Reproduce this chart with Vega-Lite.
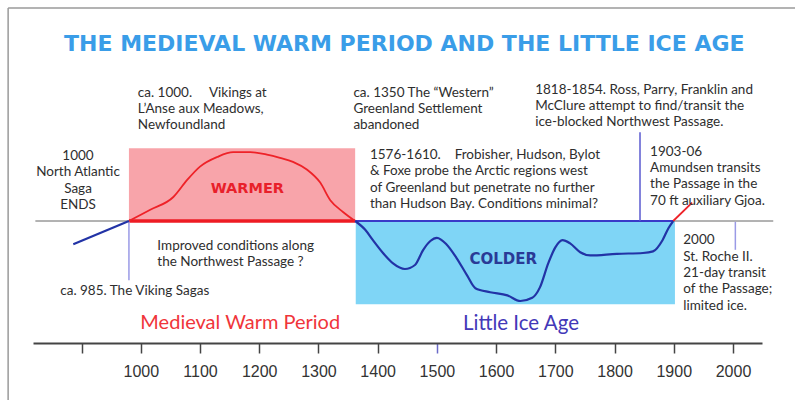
{
  "$schema": "https://vega.github.io/schema/vega-lite/v6.json",
  "width": 729,
  "height": 322,
  "autosize": {"type": "none"},
  "padding": {"left": 33, "top": 21, "right": 33, "bottom": 57},
  "background": "#ffffff",
  "config": {"view": {"stroke": null}},
  "datasets": {
    "warm_box": [{"year": 980, "year2": 1362, "v": 0, "v2": 0.91}],
    "cold_box": [{"year": 1363, "year2": 1902, "v": 0, "v2": -1.04}],
    "baseline_gray": [{"year": 822, "year2": 2068, "v": 0}],
    "baseline_red": [{"year": 980, "year2": 1362, "v": 0}],
    "baseline_blue": [{"year": 1362, "year2": 1899, "v": 0}],
    "frame_v": [{"year": 776, "v": 2.6625, "v2": -2.6}],
    "frame_h": [{"year": 776, "year2": 2140, "v": 2.6625}],
    "markers_light": [
      {"year": 980, "v": 0, "v2": -0.74},
      {"year": 2004, "v": -0.01, "v2": -0.36}
    ],
    "marker_dark": [{"year": 1843, "v": 0, "v2": 1.11}],
    "curve_warm": [
      {"seg": "mwp", "year": 980, "v": 0},
      {"seg": "mwp", "year": 1016, "v": 0.14},
      {"seg": "mwp", "year": 1055, "v": 0.3},
      {"seg": "mwp", "year": 1078, "v": 0.51},
      {"seg": "mwp", "year": 1100, "v": 0.68},
      {"seg": "mwp", "year": 1129, "v": 0.8},
      {"seg": "mwp", "year": 1156, "v": 0.86},
      {"seg": "mwp", "year": 1185, "v": 0.86},
      {"seg": "mwp", "year": 1213, "v": 0.83},
      {"seg": "mwp", "year": 1235, "v": 0.79},
      {"seg": "mwp", "year": 1257, "v": 0.74},
      {"seg": "mwp", "year": 1281, "v": 0.64},
      {"seg": "mwp", "year": 1303, "v": 0.48},
      {"seg": "mwp", "year": 1320, "v": 0.26},
      {"seg": "mwp", "year": 1342, "v": 0.11},
      {"seg": "mwp", "year": 1362, "v": 0},
      {"seg": "modern", "year": 1899, "v": 0},
      {"seg": "modern", "year": 1931, "v": 0.23}
    ],
    "curve_cold": [
      {"seg": "early", "year": 886, "v": -0.29},
      {"seg": "early", "year": 980, "v": 0},
      {"seg": "lia", "year": 1362, "v": 0},
      {"seg": "lia", "year": 1379, "v": -0.11},
      {"seg": "lia", "year": 1392, "v": -0.24},
      {"seg": "lia", "year": 1409, "v": -0.4},
      {"seg": "lia", "year": 1426, "v": -0.53},
      {"seg": "lia", "year": 1446, "v": -0.6},
      {"seg": "lia", "year": 1463, "v": -0.55},
      {"seg": "lia", "year": 1477, "v": -0.36},
      {"seg": "lia", "year": 1489, "v": -0.25},
      {"seg": "lia", "year": 1500, "v": -0.21},
      {"seg": "lia", "year": 1516, "v": -0.29},
      {"seg": "lia", "year": 1533, "v": -0.46},
      {"seg": "lia", "year": 1551, "v": -0.68},
      {"seg": "lia", "year": 1565, "v": -0.84},
      {"seg": "lia", "year": 1590, "v": -0.89},
      {"seg": "lia", "year": 1619, "v": -0.93},
      {"seg": "lia", "year": 1641, "v": -1.0},
      {"seg": "lia", "year": 1661, "v": -0.96},
      {"seg": "lia", "year": 1674, "v": -0.83},
      {"seg": "lia", "year": 1688, "v": -0.53},
      {"seg": "lia", "year": 1700, "v": -0.33},
      {"seg": "lia", "year": 1712, "v": -0.24},
      {"seg": "lia", "year": 1725, "v": -0.28},
      {"seg": "lia", "year": 1742, "v": -0.39},
      {"seg": "lia", "year": 1759, "v": -0.43},
      {"seg": "lia", "year": 1804, "v": -0.41},
      {"seg": "lia", "year": 1848, "v": -0.4},
      {"seg": "lia", "year": 1865, "v": -0.38},
      {"seg": "lia", "year": 1881, "v": -0.24},
      {"seg": "lia", "year": 1891, "v": -0.09},
      {"seg": "lia", "year": 1899, "v": 0}
    ],
    "notes_left": [
      {"year": 995, "v": 1.605, "text": "ca. 1000.\u00a0\u00a0\u00a0\u00a0 Vikings at\nL’Anse aux Meadows,\nNewfoundland"},
      {"year": 1359, "v": 1.605, "text": "ca. 1350 The “Western”\nGreenland Settlement\nabandoned"},
      {"year": 1666, "v": 1.6425, "text": "1818-1854. Ross, Parry, Franklin and\nMcClure attempt to find/transit the\nice-blocked Northwest Passage."},
      {"year": 1387, "v": 0.826, "text": "1576-1610.\u00a0\u00a0\u00a0 Frobisher, Hudson, Bylot\n& Foxe probe the Arctic regions west\nof Greenland but penetrate no further\nthan Hudson Bay. Conditions minimal?"},
      {"year": 1860, "v": 0.8675, "text": "1903-06\nAmundsen transits\nthe Passage in the\n70 ft auxiliary Gjoa."},
      {"year": 1028, "v": -0.31, "text": "Improved conditions along\nthe Northwest Passage ?"},
      {"year": 864, "v": -0.875, "text": "ca. 985. The Viking Sagas"},
      {"year": 1916, "v": -0.24, "text": "2000\nSt. Roche II.\n21-day transit\nof the Passage;\nlimited ice."}
    ],
    "notes_center": [
      {"year": 894, "v": 0.814, "text": "1000\nNorth Atlantic\nSaga\nENDS"}
    ],
    "label_warm_period": [{"year": 1168, "v": -1.275, "text": "Medieval Warm Period"}],
    "label_cold_period": [{"year": 1642, "v": -1.2875, "text": "Little Ice Age"}],
    "label_warmer": [{"year": 1180, "v": 0.4, "text": "WARMER"}],
    "label_colder": [{"year": 1612, "v": -0.475, "text": "COLDER"}],
    "title": [{"year": 1445, "v": 2.2125, "text": "THE MEDIEVAL WARM PERIOD AND THE LITTLE ICE AGE"}]
  },
  "encoding": {
    "x": {
      "field": "year",
      "type": "quantitative",
      "scale": {"domain": [818, 2049], "nice": false, "zero": false},
      "axis": {
        "title": null,
        "grid": false,
        "values": [900, 1000, 1100, 1200, 1300, 1400, 1500, 1600, 1700, 1800, 1900, 2000],
        "format": "d",
        "labelExpr": "datum.value == 900 ? '' : datum.label",
        "domainColor": "#444444",
        "domainWidth": 2,
        "tickColor": {"condition": {"test": "datum.value == 1500", "value": "#6a6ac8"}, "value": "#444444"},
        "tickWidth": 1.5,
        "tickSize": 10,
        "labelFont": "Liberation Sans",
        "labelFontSize": 16,
        "labelColor": "#333333",
        "labelPadding": 10,
        "labelFlush": false,
        "labelOverlap": false
      }
    },
    "y": {
      "field": "v",
      "type": "quantitative",
      "scale": {"domain": [-1.525, 2.5], "nice": false, "zero": false},
      "axis": null
    }
  },
  "layer": [
    {"data": {"name": "warm_box"}, "mark": {"type": "rect", "color": "#f8a4aa"},
     "encoding": {"x2": {"field": "year2"}, "y2": {"field": "v2"}}},
    {"data": {"name": "cold_box"}, "mark": {"type": "rect", "color": "#7fd5f6"},
     "encoding": {"x2": {"field": "year2"}, "y2": {"field": "v2"}}},
    {"data": {"name": "frame_v"}, "mark": {"type": "rule", "color": "#9a9a9a", "strokeWidth": 1.5},
     "encoding": {"y2": {"field": "v2"}}},
    {"data": {"name": "frame_h"}, "mark": {"type": "rule", "color": "#9a9a9a", "strokeWidth": 1.5},
     "encoding": {"x2": {"field": "year2"}}},
    {"data": {"name": "baseline_gray"}, "mark": {"type": "rule", "color": "#666666", "strokeWidth": 1},
     "encoding": {"x2": {"field": "year2"}}},
    {"data": {"name": "baseline_blue"}, "mark": {"type": "rule", "color": "#3a3ac8", "strokeWidth": 2},
     "encoding": {"x2": {"field": "year2"}}},
    {"data": {"name": "baseline_red"}, "mark": {"type": "rule", "color": "#ee1c24", "strokeWidth": 3.5},
     "encoding": {"x2": {"field": "year2"}}},
    {"data": {"name": "markers_light"}, "mark": {"type": "rule", "color": "#9a9ae6", "strokeWidth": 1.5},
     "encoding": {"y2": {"field": "v2"}}},
    {"data": {"name": "marker_dark"}, "mark": {"type": "rule", "color": "#5a5ad0", "strokeWidth": 1.5},
     "encoding": {"y2": {"field": "v2"}}},
    {"data": {"name": "curve_warm"}, "mark": {"type": "line", "color": "#ee2228", "strokeWidth": 1.8, "interpolate": "monotone"},
     "encoding": {"detail": {"field": "seg"}}},
    {"data": {"name": "curve_cold"}, "mark": {"type": "line", "color": "#2233a6", "strokeWidth": 2.2, "interpolate": "monotone"},
     "encoding": {"detail": {"field": "seg"}}},
    {"data": {"name": "notes_left"}, "mark": {"type": "text", "align": "left", "baseline": "middle", "lineBreak": "\n", "lineHeight": 16.4, "font": "Lato", "fontSize": 13.5, "color": "#2e2e2e"},
     "encoding": {"text": {"field": "text"}}},
    {"data": {"name": "notes_center"}, "mark": {"type": "text", "align": "center", "baseline": "middle", "lineBreak": "\n", "lineHeight": 16.4, "font": "Lato", "fontSize": 13.5, "color": "#2e2e2e"},
     "encoding": {"text": {"field": "text"}}},
    {"data": {"name": "label_warm_period"}, "mark": {"type": "text", "align": "center", "baseline": "middle", "font": "Lato", "fontSize": 20, "color": "#f0353a"},
     "encoding": {"text": {"field": "text"}}},
    {"data": {"name": "label_cold_period"}, "mark": {"type": "text", "align": "center", "baseline": "middle", "font": "Lato", "fontSize": 20.5, "color": "#4338b8"},
     "encoding": {"text": {"field": "text"}}},
    {"data": {"name": "label_warmer"}, "mark": {"type": "text", "align": "center", "baseline": "middle", "font": "DejaVu Sans", "fontWeight": "bold", "fontSize": 14.5, "color": "#e8202a"},
     "encoding": {"text": {"field": "text"}}},
    {"data": {"name": "label_colder"}, "mark": {"type": "text", "align": "center", "baseline": "middle", "font": "DejaVu Sans", "fontWeight": "bold", "fontSize": 15, "color": "#2a3a96"},
     "encoding": {"text": {"field": "text"}}},
    {"data": {"name": "title"}, "mark": {"type": "text", "align": "center", "baseline": "middle", "font": "DejaVu Sans", "fontWeight": "bold", "fontSize": 22, "color": "#3a9de8"},
     "encoding": {"text": {"field": "text"}}}
  ]
}
